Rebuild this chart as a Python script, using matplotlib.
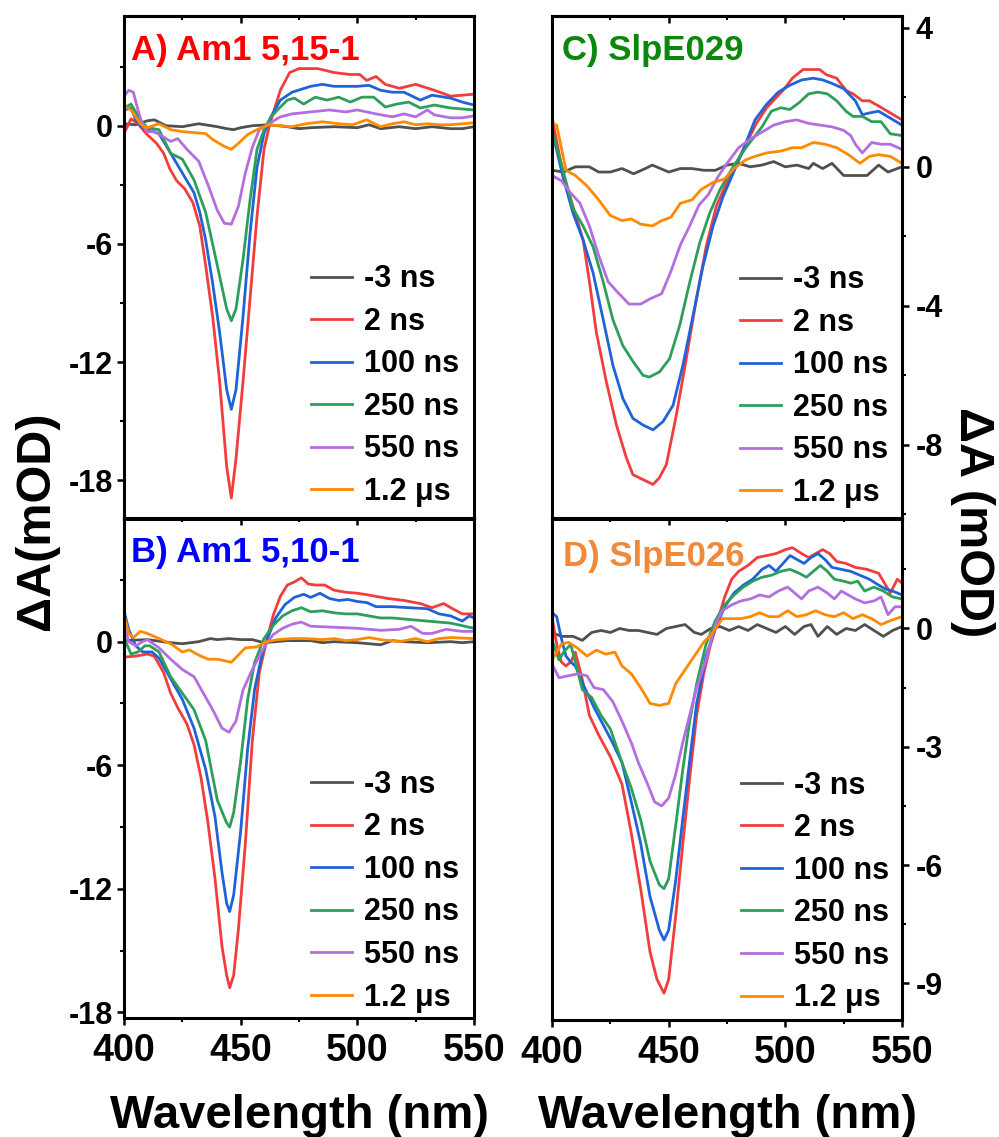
import matplotlib
matplotlib.use('Agg')
import matplotlib.pyplot as plt
from matplotlib.ticker import MultipleLocator

plt.rcParams['font.family'] = ['Liberation Sans', 'DejaVu Sans']
plt.rcParams['font.weight'] = 'bold'
plt.rcParams['axes.unicode_minus'] = False
plt.rcParams['lines.solid_joinstyle'] = 'round'

labels = ['-3 ns', '2 ns', '100 ns', '250 ns', '550 ns', '1.2 μs']
colors = ['#505050', '#F23D3D', '#1F63D8', '#2E9E5B', '#B46EE0', '#FF8A00']

# ---- panel A: Am1 5,15-1  (nm, mOD)
a_m3 = [(400, 0.1), (405, 0.05), (410, 0.25), (413, 0.3), (418, 0.0), (425, -0.05), (432, 0.1),
        (440, -0.05), (444, -0.15), (447, -0.2), (450, -0.1), (455, 0.0), (462, 0.05), (470, -0.05),
        (475, -0.15), (480, -0.1), (490, -0.05), (500, -0.1), (505, 0.05), (510, -0.15), (518, -0.05),
        (525, -0.15), (532, -0.05), (540, -0.15), (545, -0.15), (550, -0.05)]
a_2ns = [(400, -0.4), (403, 0.35), (406, 0.1), (409.5, -0.4), (414, -0.9), (417, -1.4), (419.7, -2.2),
         (422.6, -2.8), (426, -3.2), (429.5, -3.9), (432.5, -5.1), (435, -7.1), (438, -9.7), (441, -13.0),
         (444, -17.3), (446, -18.9), (448, -16.9), (451, -13.0), (454, -8.8), (457, -4.6), (460, -1.2),
         (462.5, 0.1), (467, 1.8), (471, 2.7), (475, 2.9), (483, 2.9), (490, 2.7), (497, 2.6), (501, 2.6),
         (504, 2.3), (508, 2.5), (512, 2.1), (518, 1.9), (525, 2.1), (533, 1.8), (540, 1.5), (545, 1.55),
         (550, 1.6)]
a_100 = [(400, 0.8), (403, 0.9), (405, 0.3), (408, -0.1), (410, -0.2), (415, -0.4), (420, -1.4),
         (425, -2.4), (430, -3.4), (432.5, -4.4), (435, -5.8), (438, -8.0), (441, -10.5), (444, -13.4),
         (446, -14.4), (448, -13.4), (451, -9.7), (454, -5.5), (457, -2.1), (460, -0.4), (463, 0.45),
         (467, 1.3), (472, 1.7), (480, 2.0), (485, 2.1), (490, 2.0), (500, 2.0), (505, 2.05), (510, 1.8),
         (515, 1.7), (520, 1.7), (527, 1.3), (532, 1.55), (540, 1.4), (545, 1.2), (550, 1.05)]
a_250 = [(400, 0.9), (403, 1.1), (407, 0.3), (410, -0.1), (415, -0.2), (420, -1.4), (425, -1.7),
         (430, -2.75), (435, -4.4), (440, -7.1), (444, -9.3), (446, -9.9), (448, -9.3), (451, -6.8),
         (454, -3.8), (457, -1.2), (460, -0.2), (463, 0.45), (467, 0.95), (470, 1.3), (473, 1.4),
         (477, 1.1), (482, 1.45), (487, 1.3), (492, 1.45), (497, 1.2), (502, 1.45), (507, 1.45),
         (512, 0.95), (517, 1.1), (522, 1.2), (527, 0.9), (533, 1.05), (540, 0.9), (550, 0.8)]
a_550 = [(400, 1.5), (402, 1.8), (404, 1.7), (406, 0.8), (408, 0.0), (410, -0.3), (413, -0.3),
         (416, -0.5), (420, -0.8), (423, -0.65), (427, -1.2), (432, -1.8), (436, -3.0), (440, -4.3),
         (443, -4.95), (446, -5.0), (449, -4.1), (452, -2.4), (455, -1.1), (458, -0.2), (462, 0.1),
         (467, 0.45), (472, 0.6), (480, 0.7), (488, 0.8), (495, 0.7), (500, 0.8), (508, 0.6), (515, 0.45),
         (520, 0.6), (525, 0.45), (530, 0.8), (533, 0.55), (540, 0.4), (545, 0.4), (550, 0.5)]
a_1p2 = [(400, 1.0), (403, 0.8), (407, 0.1), (410, -0.1), (415, 0.1), (420, -0.2), (425, -0.3),
         (430, -0.35), (435, -0.4), (438, -0.7), (443, -1.05), (446, -1.2), (449, -0.9), (453, -0.45),
         (457, -0.2), (462, 0.05), (467, 0.0), (472, -0.05), (478, 0.1), (485, 0.2), (492, 0.1),
         (498, 0.05), (504, 0.3), (510, -0.05), (515, 0.1), (520, 0.2), (525, 0.05), (530, 0.1),
         (535, 0.05), (540, 0.05), (550, 0.15)]

# ---- panel B: Am1 5,10-1
b_m3 = [(400, 0.05), (410, 0.1), (420, -0.05), (425, -0.1), (432, 0.0), (437, 0.15), (440, 0.1),
        (445, 0.15), (450, 0.1), (455, 0.1), (460, -0.05), (465, 0.0), (470, 0.05), (480, 0.05),
        (485, -0.05), (490, 0.0), (500, -0.05), (505, -0.1), (510, -0.15), (515, 0.05), (520, 0.0),
        (530, -0.05), (540, 0.0), (545, -0.05), (550, 0.0)]
b_2ns = [(400, -0.75), (405, -0.7), (410, -0.6), (413, -0.7), (417, -1.5), (420, -2.5), (423, -3.2),
         (427, -4.0), (430, -5.0), (433, -6.6), (436, -8.8), (439, -11.5), (442, -14.8), (444, -16.2),
         (445.3, -16.8), (447, -16.2), (449, -14.0), (452, -9.8), (455, -4.8), (458, -1.5), (461, 0.0),
         (464, 1.3), (467, 2.2), (470, 2.75), (473, 2.9), (476, 3.1), (479, 2.8), (482, 2.75), (486, 2.75),
         (490, 2.5), (495, 2.4), (500, 2.35), (503, 2.3), (508, 2.2), (513, 2.1), (520, 2.0), (527, 1.85),
         (532, 1.65), (537, 1.85), (540, 1.65), (545, 1.35), (550, 1.35)]
b_100 = [(400, 1.5), (402, 0.6), (405, -0.2), (408, -0.5), (412, -0.5), (415, -0.8), (420, -1.8),
         (425, -2.8), (430, -4.2), (435, -6.2), (439, -8.5), (442, -11.2), (444, -12.7), (445.3, -13.1),
         (447, -12.3), (450, -9.2), (453, -5.2), (456, -2.3), (459, -0.7), (462, 0.3), (465, 1.15),
         (469, 1.8), (473, 2.15), (477, 2.3), (480, 2.15), (484, 2.35), (488, 2.1), (492, 2.0), (496, 2.05),
         (500, 1.95), (504, 1.9), (508, 1.7), (515, 1.7), (522, 1.65), (530, 1.6), (535, 1.35), (540, 1.25),
         (545, 1.0), (548, 1.25), (550, 1.15)]
b_250 = [(400, 0.2), (403, -0.6), (406, -0.5), (409, -0.2), (411, -0.2), (415, -0.5), (420, -1.7),
         (425, -2.5), (430, -3.3), (435, -4.8), (440, -7.7), (444, -8.8), (445.3, -9.0), (447, -8.3),
         (450, -5.8), (453, -2.8), (456, -1.0), (460, 0.15), (464, 0.8), (468, 1.25), (472, 1.5),
         (476, 1.65), (480, 1.45), (485, 1.5), (490, 1.4), (495, 1.35), (500, 1.35), (505, 1.25),
         (510, 1.15), (515, 1.15), (520, 1.1), (530, 1.0), (540, 0.9), (550, 0.65)]
b_550 = [(400, 0.9), (402, 0.0), (405, -0.2), (408, 0.0), (410, 0.1), (415, -0.3), (420, -0.85),
         (425, -1.35), (430, -1.7), (434, -2.5), (438, -3.3), (442, -4.2), (445, -4.4), (448, -3.85),
         (451, -2.35), (455, -1.35), (458, -0.7), (461, -0.1), (464, 0.35), (468, 0.65), (472, 0.85),
         (476, 0.95), (480, 0.75), (490, 0.7), (500, 0.65), (505, 0.6), (510, 0.55), (518, 0.6),
         (523, 0.75), (528, 0.4), (532, 0.4), (538, 0.6), (545, 0.5), (550, 0.5)]
b_1p2 = [(400, 1.3), (402, 0.4), (404, 0.2), (407, 0.5), (410, 0.4), (415, 0.15), (420, -0.1),
         (425, -0.5), (428, -0.4), (432, -0.65), (436, -0.85), (440, -0.85), (444, -0.95), (446, -1.0),
         (449, -0.65), (452, -0.3), (457, -0.25), (461, 0.0), (466, 0.1), (472, 0.15), (478, 0.15),
         (485, 0.1), (490, 0.15), (495, 0.05), (500, 0.1), (505, 0.2), (510, 0.1), (518, 0.0), (525, 0.15),
         (530, 0.0), (535, 0.15), (540, 0.2), (550, 0.15)]

# ---- panel C: SlpE029
c_m3 = [(400, -0.1), (405, -0.15), (410, 0.0), (416, 0.0), (420, -0.15), (425, -0.15), (430, -0.05),
        (435, -0.2), (440, -0.05), (443, 0.05), (450, -0.15), (455, -0.05), (460, -0.05), (465, -0.1),
        (470, -0.1), (475, 0.05), (480, 0.1), (485, 0.0), (490, 0.05), (495, 0.15), (500, 0.0),
        (505, 0.05), (510, -0.05), (512, 0.1), (516, -0.05), (520, 0.1), (525, -0.25), (530, -0.25),
        (535, -0.25), (540, 0.05), (544, -0.15), (550, 0.0)]
c_2ns = [(400, 1.43), (404.7, -0.19), (409, -1.14), (413.3, -2.1), (416.1, -3.33), (419, -4.76),
         (423.3, -6.19), (427.6, -7.43), (431.9, -8.38), (434.7, -8.86), (439, -9.0), (443.3, -9.14),
         (446, -8.95), (449, -8.57), (453.3, -7.14), (457.6, -5.5), (461.9, -3.8), (466.1, -2.29),
         (470.4, -1.14), (474.7, -0.48), (479, 0.1), (483.3, 0.67), (487.6, 1.25), (492, 1.7), (499, 2.2),
         (503, 2.55), (507.6, 2.8), (512, 2.8), (514.7, 2.8), (517.6, 2.65), (522, 2.55), (526, 2.2),
         (529, 2.1), (533, 1.9), (536, 1.9), (540, 1.75), (545, 1.55), (550, 1.35)]
c_100 = [(400, 1.05), (404.7, -0.29), (409, -1.33), (413.3, -2.1), (417.6, -3.05), (421.9, -4.38),
         (426.1, -5.71), (430.4, -6.67), (434.7, -7.24), (439, -7.43), (443.3, -7.57), (447.6, -7.33),
         (451.9, -6.86), (456.1, -5.71), (460.4, -4.29), (464.7, -2.86), (469, -1.71), (473.3, -0.86),
         (477.6, -0.19), (481.9, 0.48), (487, 1.35), (492, 1.8), (497, 2.15), (502, 2.35), (507, 2.5),
         (512, 2.55), (516, 2.5), (520, 2.4), (525, 2.25), (530, 1.9), (533, 1.5), (536, 1.55), (540, 1.6),
         (545, 1.4), (550, 1.2)]
c_250 = [(400, 1.05), (404.7, -0.1), (409, -1.2), (413.3, -1.7), (417.6, -2.3), (421.9, -3.3),
         (426.1, -4.4), (430.4, -5.15), (434.7, -5.6), (439, -6.0), (441.7, -6.05), (446.1, -5.9),
         (450.4, -5.52), (454.7, -4.57), (459, -3.33), (463.3, -2.19), (467.6, -1.33), (471.9, -0.67),
         (477.6, 0.0), (483.3, 0.57), (490, 1.15), (494, 1.6), (498, 1.7), (502, 1.65), (506, 1.85),
         (510, 2.1), (514, 2.15), (518, 2.1), (522, 1.9), (526, 1.6), (529, 1.45), (533, 1.45), (537, 1.3),
         (541, 1.3), (545, 0.95), (550, 0.9)]
c_550 = [(400, -0.25), (404, -0.4), (408, -0.75), (412, -1.05), (416, -1.7), (420, -2.55), (424, -3.3),
         (428, -3.6), (433, -3.95), (438, -3.95), (442, -3.8), (447, -3.65), (451, -3.0), (455, -2.25),
         (459, -1.7), (463, -1.1), (467, -0.8), (471, -0.3), (475, 0.1), (480, 0.55), (485, 0.8),
         (490, 1.0), (495, 1.2), (500, 1.3), (505, 1.35), (510, 1.25), (515, 1.2), (520, 1.15), (525, 1.05),
         (528, 0.9), (530, 0.65), (533, 0.4), (537, 0.7), (541, 0.65), (545, 0.65), (550, 0.5)]
c_1p2 = [(400, 1.25), (402, 1.2), (404, 0.55), (406, -0.1), (410, -0.25), (415, -0.55), (420, -0.95),
         (425, -1.4), (430, -1.55), (434, -1.5), (438, -1.65), (443, -1.7), (447, -1.55), (451, -1.45),
         (455, -1.05), (460, -0.95), (464, -0.65), (469, -0.45), (474, -0.35), (478, -0.05), (483, 0.2),
         (487, 0.3), (492, 0.4), (498, 0.45), (503, 0.55), (507, 0.55), (512, 0.7), (517, 0.65),
         (522, 0.55), (527, 0.35), (532, 0.1), (536, 0.3), (540, 0.35), (545, 0.3), (550, 0.1)]

# ---- panel D: SlpE026
d_m3 = [(400, -0.1), (404, -0.2), (409, -0.2), (413, -0.3), (417, -0.1), (421, -0.05), (425, -0.1),
        (429, 0.0), (433, -0.05), (437, -0.05), (441, -0.1), (445, -0.15), (449, 0.0), (453, 0.05),
        (457, 0.1), (461, -0.1), (464, -0.15), (468, 0.0), (472, 0.05), (476, -0.05), (480, 0.05),
        (484, -0.05), (488, 0.1), (492, 0.0), (496, -0.1), (500, 0.05), (504, -0.15), (508, 0.05),
        (511, 0.1), (514, -0.2), (518, 0.05), (522, -0.15), (526, 0.0), (530, -0.05), (534, 0.1),
        (538, -0.05), (542, -0.2), (546, -0.05), (550, 0.05)]
d_2ns = [(400, 0.3), (402, -0.4), (404, -0.85), (406, -0.95), (408, -0.85), (410, -0.6), (413, -1.3),
         (416, -2.2), (420, -2.7), (425, -3.25), (430, -3.95), (434, -5.2), (438, -6.6), (442, -8.2),
         (445, -8.9), (448, -9.25), (450, -8.9), (453, -7.3), (456, -5.5), (459, -3.8), (462, -2.2),
         (465, -1.15), (468, -0.4), (471, 0.2), (474, 0.8), (477, 1.25), (480, 1.45), (484, 1.6),
         (488, 1.8), (492, 1.85), (496, 1.9), (500, 2.0), (503, 2.05), (507, 1.9), (510, 1.8), (513, 1.9),
         (516, 2.0), (519, 1.9), (522, 1.7), (526, 1.65), (530, 1.55), (535, 1.5), (540, 1.4), (543, 1.1),
         (545, 0.9), (548, 1.25), (550, 1.15)]
d_100 = [(400, 0.4), (402, 0.3), (404, -0.25), (406, -0.7), (408, -0.85), (410, -0.95), (414, -1.5),
         (418, -2.0), (422, -2.45), (426, -2.9), (430, -3.4), (434, -4.4), (438, -5.45), (442, -6.8),
         (446, -7.65), (448, -7.9), (450, -7.65), (453, -6.4), (456, -4.85), (459, -3.35), (462, -1.9),
         (466, -0.7), (470, 0.0), (474, 0.55), (478, 0.9), (482, 1.1), (486, 1.25), (490, 1.5), (493, 1.6),
         (496, 1.45), (499, 1.65), (502, 1.85), (505, 1.75), (508, 1.65), (511, 1.8), (514, 1.9),
         (517, 1.75), (520, 1.55), (524, 1.5), (528, 1.45), (532, 1.35), (536, 1.25), (540, 1.1),
         (543, 1.0), (546, 0.95), (550, 0.85)]
d_250 = [(400, -0.3), (403, -0.8), (405, -0.6), (408, -0.4), (410, -0.85), (413, -1.55), (417, -1.75),
         (421, -2.2), (425, -2.55), (430, -3.4), (434, -4.05), (438, -4.85), (442, -5.9), (446, -6.5),
         (448, -6.6), (450, -6.35), (453, -5.0), (456, -3.6), (459, -2.35), (462, -1.4), (466, -0.4),
         (470, 0.2), (474, 0.6), (478, 0.85), (482, 1.05), (486, 1.2), (490, 1.3), (494, 1.35), (498, 1.45),
         (502, 1.5), (506, 1.4), (509, 1.3), (512, 1.45), (515, 1.6), (518, 1.45), (521, 1.25), (525, 1.2),
         (528, 1.15), (531, 1.2), (534, 0.95), (538, 1.05), (542, 0.95), (546, 0.8), (550, 0.75)]
d_550 = [(400, -0.9), (403, -1.25), (407, -1.2), (411, -1.15), (415, -1.2), (418, -1.5), (422, -1.55),
         (426, -1.85), (430, -2.35), (434, -2.9), (437, -3.4), (441, -3.95), (444, -4.4), (447, -4.5),
         (450, -4.3), (453, -3.7), (456, -2.9), (459, -2.2), (462, -1.5), (466, -0.8), (470, 0.1),
         (473, 0.45), (477, 0.6), (481, 0.7), (485, 0.75), (489, 0.85), (493, 0.8), (497, 0.95),
         (501, 1.05), (504, 0.9), (507, 0.75), (510, 0.95), (514, 1.05), (518, 0.9), (521, 0.75),
         (524, 0.95), (527, 0.85), (530, 0.75), (534, 0.65), (538, 0.7), (541, 0.8), (544, 0.35),
         (547, 0.55), (550, 0.55)]
d_1p2 = [(400, -0.8), (402, -0.6), (404, -0.4), (407, -0.35), (411, -0.5), (415, -0.7), (419, -0.55),
         (423, -0.65), (427, -0.6), (430, -0.95), (434, -1.15), (438, -1.5), (442, -1.9), (446, -1.95),
         (450, -1.9), (453, -1.4), (457, -1.05), (461, -0.7), (465, -0.35), (469, -0.1), (473, 0.25),
         (477, 0.25), (481, 0.25), (485, 0.3), (489, 0.4), (493, 0.3), (497, 0.3), (501, 0.45), (505, 0.3),
         (509, 0.35), (513, 0.45), (517, 0.35), (521, 0.3), (525, 0.4), (529, 0.25), (533, 0.35),
         (537, 0.25), (541, 0.1), (545, 0.2), (550, 0.3)]

W, H = 999, 1137
fig = plt.figure(figsize=(W / 100, H / 100), dpi=100)


def add_axes(left, top, right, bottom):
    return fig.add_axes([left / W, 1 - bottom / H, (right - left) / W, (bottom - top) / H])


def draw_panel(ax, series, title, title_color, ylim, major, side, show_x, leg_xy, title_xy):
    for s, c, lab in zip(series, colors, labels):
        xs = [p[0] for p in s]
        ys = [p[1] for p in s]
        ax.plot(xs, ys, color=c, lw=2.0, label=lab)
    ax.set_xlim(400, 550)
    ax.set_ylim(*ylim)
    ax.xaxis.set_major_locator(MultipleLocator(50))
    ax.xaxis.set_minor_locator(MultipleLocator(25))
    ax.yaxis.set_major_locator(MultipleLocator(major))
    ax.yaxis.set_minor_locator(MultipleLocator(major / 2))
    for sp in ax.spines.values():
        sp.set_linewidth(2.2)
    pad = 3
    if side == 'right':
        ax.yaxis.tick_right()
        pad = 5
    ax.tick_params(axis='y', which='major', direction='out', length=5, width=1.8,
                   labelsize=22, pad=pad)
    ax.tick_params(axis='y', which='minor', direction='out', length=3, width=1.5)
    ax.tick_params(axis='x', which='major', direction='out', length=5, width=1.8,
                   labelsize=27, pad=6, bottom=show_x, labelbottom=show_x)
    ax.tick_params(axis='x', which='minor', direction='out', length=3, width=1.5, bottom=show_x)
    top = ax.secondary_xaxis('top')
    top.xaxis.set_major_locator(MultipleLocator(50))
    top.xaxis.set_minor_locator(MultipleLocator(25))
    top.tick_params(which='major', direction='in', length=5, width=1.8, labeltop=False)
    top.tick_params(which='minor', direction='in', length=3, width=1.5)
    top.spines['top'].set_linewidth(2.2)
    ax.text(title_xy[0], title_xy[1], title, color=title_color, transform=ax.transAxes,
            fontsize=25, fontweight='bold', ha='left', va='baseline')
    ax.legend(loc='lower left', bbox_to_anchor=leg_xy, frameon=False,
              borderpad=0, borderaxespad=0, handlelength=1.35, handletextpad=0.4,
              labelspacing=0.41, prop={'weight': 'bold', 'size': 22})


ax_a = add_axes(124, 16, 474, 518.5)
ax_b = add_axes(124, 518.5, 474, 1018)
ax_c = add_axes(552, 16, 902, 518.5)
ax_d = add_axes(552, 518.5, 902, 1020)

draw_panel(ax_a, [a_m3, a_2ns, a_100, a_250, a_550, a_1p2], 'A) Am1 5,15-1', '#FF0000',
           (-19.94, 5.57), 6, 'left', False, (0.534, 0.023), (0.02, 0.912))
draw_panel(ax_b, [b_m3, b_2ns, b_100, b_250, b_550, b_1p2], 'B) Am1 5,10-1', '#0000FF',
           (-18.27, 5.98), 6, 'left', True, (0.534, 0.011), (0.02, 0.912))
draw_panel(ax_c, [c_m3, c_2ns, c_100, c_250, c_550, c_1p2], 'C) SlpE029', '#0B870B',
           (-10.12, 4.34), 4, 'right', False, (0.537, 0.021), (0.029, 0.912))
draw_panel(ax_d, [d_m3, d_2ns, d_100, d_250, d_550, d_1p2], 'D) SlpE026', '#F08A3A',
           (-9.93, 2.79), 3, 'right', True, (0.54, 0.0135), (0.031, 0.906))

fig.text(37 / W, 1 - 521 / H, 'ΔA(mOD)', rotation=90, ha='center', va='center',
         fontsize=35, fontweight='bold')
fig.text(973 / W, 1 - 522 / H, 'ΔA (mOD)', rotation=270, ha='center', va='center',
         fontsize=35, fontweight='bold')
fig.text(299 / W, 1 - 1128 / H, 'Wavelength (nm)', ha='center', va='baseline',
         fontsize=34, fontweight='bold')
fig.text(728 / W, 1 - 1128 / H, 'Wavelength (nm)', ha='center', va='baseline',
         fontsize=34, fontweight='bold')

fig.savefig('out.png', dpi=100)
